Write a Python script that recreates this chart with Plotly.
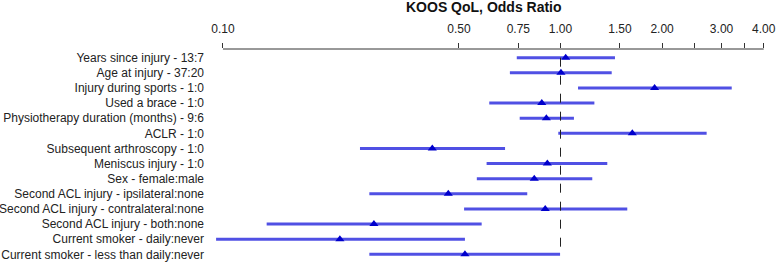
import plotly.graph_objects as go

labels = [
    "Years since injury - 13:7",
    "Age at injury - 37:20",
    "Injury during sports - 1:0",
    "Used a brace - 1:0",
    "Physiotherapy duration (months) - 9:6",
    "ACLR - 1:0",
    "Subsequent arthroscopy - 1:0",
    "Meniscus injury - 1:0",
    "Sex - female:male",
    "Second ACL injury - ipsilateral:none",
    "Second ACL injury - contralateral:none",
    "Second ACL injury - both:none",
    "Current smoker - daily:never",
    "Current smoker - less than daily:never",
]
odds_ratio = [1.036, 1.003, 1.90, 0.88, 0.908, 1.632, 0.417, 0.914, 0.836, 0.465, 0.901, 0.280, 0.222, 0.521]
ci_lower = [0.742, 0.708, 1.127, 0.615, 0.757, 0.985, 0.2546, 0.604, 0.565, 0.2714, 0.518, 0.1347, 0.0954, 0.2714]
ci_upper = [1.45, 1.418, 3.216, 1.26, 1.096, 2.71, 0.685, 1.376, 1.242, 0.797, 1.577, 0.584, 0.521, 0.997]

tick_vals = [0.10, 0.50, 0.75, 1.00, 1.50, 2.00, 2.50, 3.00, 3.50, 4.00]
tick_text = ["0.10", "0.50", "0.75", "1.00", "1.50", "2.00", "", "3.00", "", "4.00"]

FONT = "Liberation Sans, Arial, sans-serif"
ypos = list(range(len(labels)))

lx, ly = [], []
for i in ypos:
    lx += [ci_lower[i], ci_upper[i], None]
    ly += [i, i, None]

fig = go.Figure()
fig.add_trace(go.Scatter(x=lx, y=ly, mode="lines",
                         line=dict(color="#5050e4", width=3), hoverinfo="skip"))
fig.add_trace(go.Scatter(x=odds_ratio, y=ypos, mode="markers",
                         marker=dict(symbol="triangle-up", size=8, color="#0000cc")))

# reference line at OR = 1
fig.add_shape(type="line", xref="x", yref="y", x0=1, x1=1, y0=0, y1=len(labels) - 1,
              line=dict(color="#222", width=1, dash="dash"))
# axis line from 0.10 to 4.00
fig.add_shape(type="line", xref="x", yref="paper", x0=tick_vals[0], x1=tick_vals[-1], y0=1, y1=1,
              line=dict(color="#333", width=1))

fig.add_annotation(text="<b>KOOS QoL, Odds Ratio</b>", xref="paper", yref="paper",
                   x=0.489, y=1.195, showarrow=False, xanchor="center", yanchor="middle",
                   font=dict(family=FONT, size=14, color="#111"))

fig.update_layout(
    width=777, height=264,
    margin=dict(l=210, r=7, t=49, b=0, autoexpand=False),
    paper_bgcolor="white", plot_bgcolor="white",
    showlegend=False,
    font=dict(family=FONT, size=12, color="#222"),
    xaxis=dict(type="log", range=[-1.0385, 0.6207], side="top", automargin=False,
               tickvals=tick_vals, ticktext=tick_text, ticks="outside", ticklen=5,
               ticklabelstandoff=5,
               tickcolor="#333", showgrid=False, zeroline=False, showline=False,
               tickfont=dict(family=FONT, size=12, color="#222")),
    yaxis=dict(range=[13.64, -0.575], tickvals=ypos, ticktext=labels, automargin=False,
               ticklabelstandoff=5,
               showgrid=False, zeroline=False, showline=False, ticks="",
               tickfont=dict(family=FONT, size=12, color="#222")),
)

fig.write_html("out.html", config={"displayModeBar": False},
               post_script="document.body.style.margin='0';document.body.style.overflow='hidden';")
